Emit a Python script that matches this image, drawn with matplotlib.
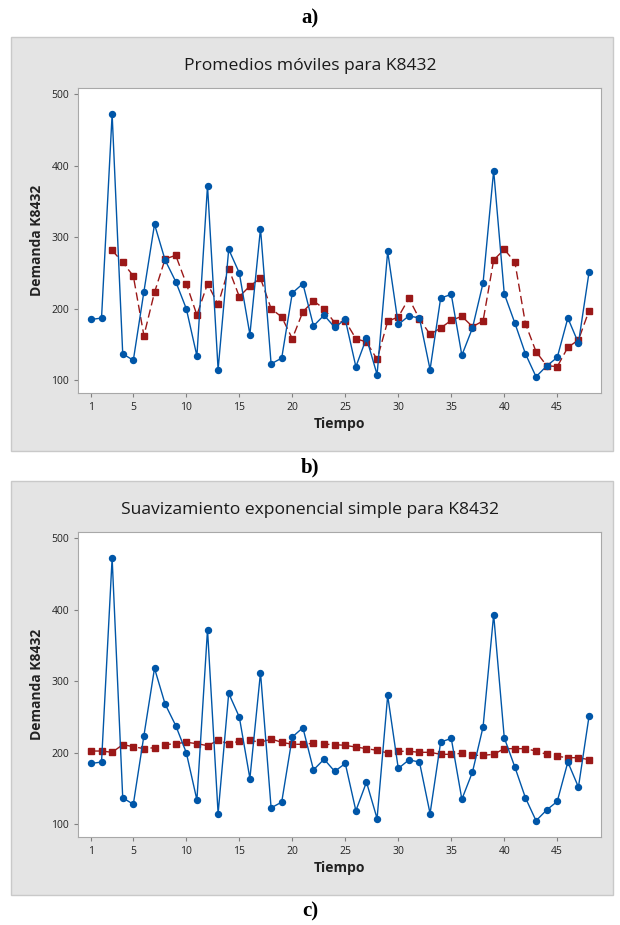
import matplotlib
matplotlib.use("Agg")
import matplotlib.pyplot as plt
from matplotlib.patches import Rectangle

# datos
tiempo = list(range(1, 49))
demanda = [185, 187, 472, 137, 128, 224, 318, 268, 238, 200,
           134, 372, 115, 283, 250, 164, 312, 123, 131, 222,
           235, 176, 191, 174, 185, 119, 159, 108, 280, 178,
           190, 187, 115, 215, 220, 135, 173, 236, 393, 221,
           180, 137, 105, 120, 132, 187, 152, 251]

# promedio movil (empieza en t=3)
t_ma = list(range(3, 49))
prom_movil = [281.6, 264.8, 245.7, 162.4, 222.9, 269.5, 274.6, 235.0, 191.2, 235.0,
              206.1, 256.0, 216.9, 231.8, 242.5, 200.1, 188.5, 158.2, 195.9, 210.8,
              200.1, 180.5, 182.9, 158.2, 153.5, 129.3, 182.4, 188.5, 214.5, 185.7,
              164.2, 173.1, 183.8, 189.4, 175.0, 182.9, 268.0, 283.0, 265.3, 179.1,
              140.0, 120.5, 119.1, 146.1, 156.3, 197.3]

# suavizamiento exponencial simple
suav_exp = [202.4, 202.4, 200.6, 211.3, 208.5, 205.7, 207.1, 211.3, 212.7, 214.6,
            212.7, 209.9, 217.3, 212.7, 215.9, 217.3, 214.6, 219.2, 214.6, 211.8,
            211.8, 213.2, 211.8, 211.5, 210.2, 208.0, 205.7, 203.4, 199.7, 202.0,
            202.0, 200.6, 200.6, 197.8, 197.8, 199.2, 196.4, 196.4, 197.8, 205.7,
            205.7, 205.7, 202.4, 197.8, 195.0, 193.1, 193.1, 190.3]

xticks = [1, 5, 10, 15, 20, 25, 30, 35, 40, 45]
yticks = [100, 200, 300, 400, 500]

azul = "#0056a8"
rojo = "#9b1818"
gris = "#e4e4e4"

W, H = 620, 925
fig = plt.figure(figsize=(W / 100, H / 100), dpi=100)
fig.patch.set_facecolor("white")


def fx(px):
    return px / W


def fy(py):
    return 1 - py / H


def panel(top, title, serie_x, serie_y):
    # fondo gris del panel
    fig.patches.append(Rectangle((fx(11), fy(top + 414)), fx(602), 414 / H,
                                 transform=fig.transFigure, facecolor=gris,
                                 edgecolor="#c9c9c9", lw=1, zorder=-5))
    ax = fig.add_axes([fx(78), fy(top + 355.7), fx(522.7), 304.7 / H])
    ax.set_zorder(2)
    ax.set_facecolor("white")
    ax.plot(tiempo, demanda, color=azul, lw=1, marker="o", ms=4.3, zorder=3)
    ax.plot(serie_x, serie_y, color=rojo, lw=1, ls=(0, (6, 3)), marker="s",
            ms=4.5, zorder=2)
    ax.set_xlim(-0.22, 49.1)
    ax.set_ylim(82.7, 508.4)
    ax.set_xticks(xticks)
    ax.set_yticks(yticks)
    for s in ax.spines.values():
        s.set_color("#a8a8a8")
    ax.tick_params(colors="#808080", labelcolor="#222222", labelsize=7.5,
                   length=3, width=0.8)
    ax.set_xlabel("Tiempo", fontsize=10, fontweight="bold", color="#222222",
                  labelpad=3)
    ax.set_ylabel("Demanda K8432", fontsize=10, fontweight="bold",
                  color="#222222", labelpad=5)
    fig.text(0.5, fy(top + 29), title, ha="center", va="center", fontsize=12.6,
             color="#1a1a1a")
    return ax


plt.rcParams["font.family"] = ["Open Sans", "DejaVu Sans"]

panel(37, "Promedios móviles para K8432", t_ma, prom_movil)
panel(481, "Suavizamiento exponencial simple para K8432", tiempo, suav_exp)

for lab, py in [("a)", 18), ("b)", 467), ("c)", 911)]:
    fig.text(0.5, fy(py), lab, ha="center", va="center", fontsize=15,
             fontweight="bold", family="Liberation Serif")

fig.savefig("out.png", dpi=100)
